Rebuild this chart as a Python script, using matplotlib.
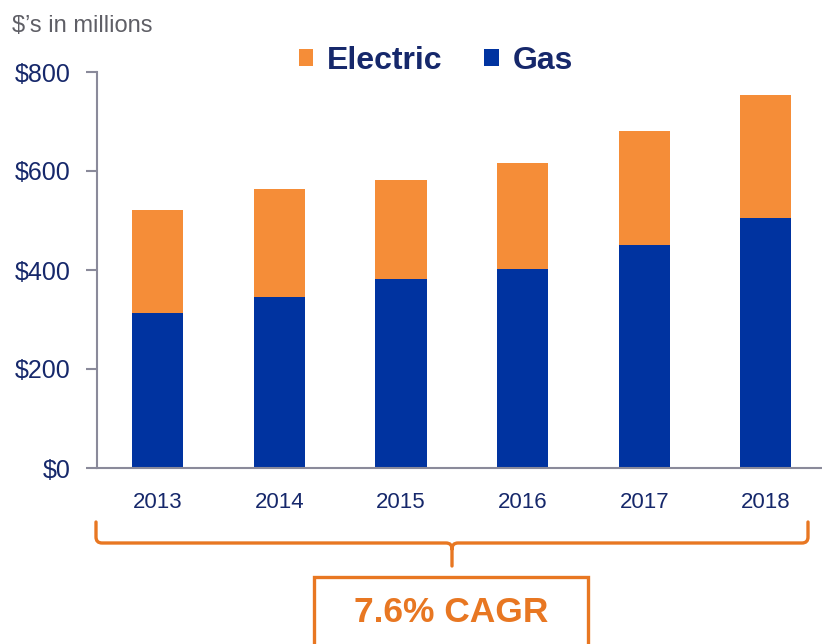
import matplotlib
matplotlib.use("Agg")
import matplotlib.pyplot as plt
from matplotlib.patches import Rectangle, PathPatch
from matplotlib.path import Path

years = ["2013", "2014", "2015", "2016", "2017", "2018"]
gas = [313, 345, 382, 402, 450, 505]
electric = [208, 219, 200, 214, 231, 249]
yticks = [0, 200, 400, 600, 800]
cagr_text = "7.6% CAGR"

ORANGE = "#F58D38"
ORANGE_LINE = "#E87722"
BLUE = "#0033A0"
NAVY = "#16286B"
GRAY = "#8A8A9A"

plt.rcParams["font.family"] = ["Liberation Sans", "DejaVu Sans"]

W, H = 822, 644
fig = plt.figure(figsize=(W / 100, H / 100), dpi=100)


def fx(px):
    return px / W


def fy(py):
    return 1 - py / H


ax = fig.add_axes([fx(97), fy(468), fx(826.6) - fx(97), fy(72) - fy(468)])
x = range(len(years))
b_gas = ax.bar(x, gas, width=0.42, color=BLUE, label="Gas", zorder=2)
b_el = ax.bar(x, electric, bottom=gas, width=0.42, color=ORANGE, label="Electric", zorder=2)

ax.set_xlim(-0.5, len(years) - 0.5)
ax.set_ylim(0, 800)
ax.set_yticks(yticks)
ax.set_yticklabels(["${}".format(v) for v in yticks], fontsize=18, color=NAVY)
ax.set_xticks(list(x))
# the original uses a narrow face; plain Liberation Sans a size smaller
ax.set_xticklabels(years, fontsize=16, color=NAVY)
ax.tick_params(axis="y", length=8, width=1.5, color=GRAY, pad=11)
ax.tick_params(axis="x", length=0, pad=17)
for s in ["top", "right"]:
    ax.spines[s].set_visible(False)
for s in ["left", "bottom"]:
    ax.spines[s].set_color(GRAY)
    ax.spines[s].set_linewidth(1.5)

fig.text(fx(12), fy(26), "$\u2019s in millions", fontsize=17, color="#5F5F66",
         va="center", ha="left")

fig.legend([b_el, b_gas], ["Electric", "Gas"], loc="center",
           bbox_to_anchor=(fx(436), fy(61)), ncol=2, frameon=False,
           prop={"weight": "bold", "size": 23},
           labelcolor=NAVY, handlelength=0.45, handleheight=0.45,
           handletextpad=0.45, columnspacing=1.3, borderpad=0)

# bracket under the years
r = 6
verts = [
    (fx(96), fy(522)), (fx(96), fy(543 - r)),
    (fx(96), fy(543)), (fx(96 + r), fy(543)),
    (fx(452 - r), fy(543)),
    (fx(452), fy(543)), (fx(452), fy(543 + r)),
    (fx(452), fy(566)),
    (fx(452), fy(543 + r)),
    (fx(452), fy(543)), (fx(452 + r), fy(543)),
    (fx(808 - r), fy(543)),
    (fx(808), fy(543)), (fx(808), fy(543 - r)),
    (fx(808), fy(522)),
]
codes = [Path.MOVETO, Path.LINETO, Path.CURVE3, Path.CURVE3, Path.LINETO,
         Path.CURVE3, Path.CURVE3, Path.LINETO, Path.MOVETO,
         Path.CURVE3, Path.CURVE3, Path.LINETO, Path.CURVE3, Path.CURVE3,
         Path.LINETO]
fig.add_artist(PathPatch(Path(verts, codes), transform=fig.transFigure,
                         facecolor="none", edgecolor=ORANGE_LINE, lw=2.4,
                         capstyle="round", joinstyle="round"))

fig.add_artist(Rectangle((fx(314), fy(660)), fx(588) - fx(314), fy(577) - fy(660),
                         transform=fig.transFigure, facecolor="white",
                         edgecolor=ORANGE_LINE, lw=2.4))
fig.text(fx(451), fy(613), cagr_text, fontsize=25.5, fontweight="bold",
         color=ORANGE_LINE, ha="center", va="center")

fig.savefig("out.png", dpi=100)
